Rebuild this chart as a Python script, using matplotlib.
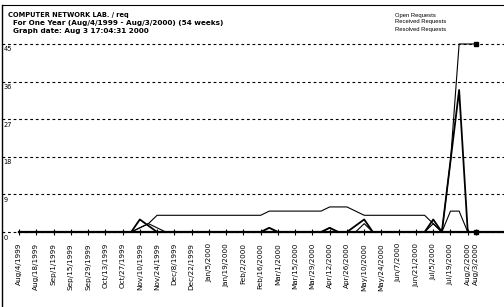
import matplotlib
matplotlib.use('Agg')
import matplotlib.pyplot as plt
import matplotlib.transforms as mtransforms

# one point per week, Aug/4/1999 ... Aug/2/2000, plus Aug/3/2000
semanas = list(range(54))

rotulos = ['Aug/4/1999', 'Aug/18/1999', 'Sep/1/1999', 'Sep/15/1999', 'Sep/29/1999',
           'Oct/13/1999', 'Oct/27/1999', 'Nov/10/1999', 'Nov/24/1999', 'Dec/8/1999',
           'Dec/22/1999', 'Jan/5/2000', 'Jan/19/2000', 'Feb/2/2000', 'Feb/16/2000',
           'Mar/1/2000', 'Mar/15/2000', 'Mar/29/2000', 'Apr/12/2000', 'Apr/26/2000',
           'May/10/2000', 'May/24/2000', 'Jun/7/2000', 'Jun/21/2000', 'Jul/5/2000',
           'Jul/19/2000', 'Aug/2/2000', 'Aug/3/2000']
pos_rotulos = list(range(0, 53, 2)) + [53]

# valores (semana 0..53)
abertos = [0]*14 + [1, 2] + [4]*13 + [5]*7 + [6]*3 + [5] + [4]*8 + [2, 0, 17, 45, 45, 45]
recebidos = [0]*14 + [3, 1.5] + [0]*13 + [1] + [0]*6 + [1] + [0]*2 + [1.5, 3] + [0]*7 + [3, 0, 17, 34, 0, 0]
resolvidos = [0]*14 + [1, 2, 1] + [0]*12 + [1] + [0]*6 + [1] + [0]*3 + [2] + [0]*7 + [2, 0, 5, 5, 0, 0]

nomes = ['Open Requests', 'Received Requests', 'Resolved Requests']
grade_y = [0, 9, 18, 27, 36, 45]

fig = plt.figure(figsize=(5.04, 3.07), dpi=100)
ax = fig.add_axes([2/504, 0, 1 - 2/504, 1 - 5/307])

ax.plot(semanas, abertos, color='black', lw=0.8, marker='s', ms=3, markevery=[53])
ax.plot(semanas, recebidos, color='black', lw=1.3, marker='s', ms=2.5, markevery=[53])
ax.plot(semanas, resolvidos, color='black', lw=0.8)

ax.set_xlim(-1.97, 56.2)
ax.set_ylim(-17.95, 54.33)

ax.spines['right'].set_visible(False)
ax.spines['bottom'].set_position(('data', 0))
ax.spines['bottom'].set_bounds(0, 56.2)
ax.spines['bottom'].set_linewidth(1.6)
ax.spines['left'].set_linewidth(1.0)
ax.spines['top'].set_linewidth(0.8)

ax.set_yticks(grade_y)
ax.set_yticklabels([str(v) for v in grade_y])
ax.yaxis.grid(True, color='black', lw=0.8, linestyle=(0, (2.5, 2.5)))
ax.tick_params(axis='y', length=0, pad=-1, labelsize=4.8)
desl = mtransforms.ScaledTranslation(0, -2.5/100, fig.dpi_scale_trans)
for lab in ax.get_yticklabels():
    lab.set_ha('left')
    lab.set_va('top')
    lab.set_transform(lab.get_transform() + desl)

ax.set_xticks(pos_rotulos)
ax.set_xticklabels(rotulos, rotation=90)
ax.tick_params(axis='x', direction='inout', length=4, width=0.8, pad=6, labelsize=5.2)

# cabecalho
fig.text(8/504, 1 - 15/307, 'COMPUTER NETWORK LAB. / req', fontsize=4.8,
         fontweight='bold', va='center', ha='left')
fig.text(13/504, 1 - 22.5/307, 'For One Year (Aug/4/1999 - Aug/3/2000) (54 weeks)',
         fontsize=5.2, fontweight='bold', va='center', ha='left')
fig.text(13/504, 1 - 30.5/307, 'Graph date: Aug 3 17:04:31 2000',
         fontsize=5.2, fontweight='bold', va='center', ha='left')

for i, nome in enumerate(nomes):
    fig.text(395/504, 1 - (15 + 7*i)/307, nome, fontsize=4.2, va='center', ha='left',
             family='Liberation Sans')

fig.savefig('out.png', dpi=100)
